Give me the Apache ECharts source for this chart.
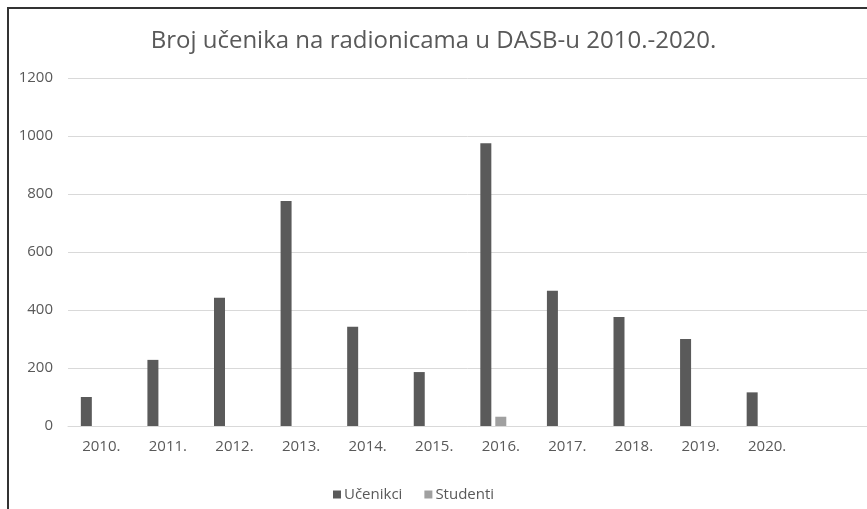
<!DOCTYPE html>
<html>
<head>
<meta charset="utf-8">
<title>Broj učenika</title>
<script src="https://cdn.jsdelivr.net/npm/echarts@6/dist/echarts.min.js"></script>
<style>
  html, body { margin: 0; padding: 0; background: #fff; }
  #chart { width: 867px; height: 509px; }
</style>
</head>
<body>
<div id="chart"></div>
<script>
// godine (zadnja kategorija prazna, kao u originalu)
const years = ['2010.', '2011.', '2012.', '2013.', '2014.', '2015.', '2016.', '2017.', '2018.', '2019.', '2020.', ''];
const ucenici = [100, 228, 442, 776, 342, 186, 975, 466, 376, 300, 116, null];
const studenti = [null, null, null, null, null, null, 32, null, null, null, null, null];
const yTicks = [0, 200, 400, 600, 800, 1000, 1200];

const font = '"Open Sans", "Noto Sans", sans-serif';
const textGray = '#595959';

const chart = echarts.init(document.getElementById('chart'));

chart.setOption({
    backgroundColor: '#fff',
    animation: false,
    title: {
        text: 'Broj učenika na radionicama u DASB-u 2010.-2020.',
        left: 'center',
        top: 24,
        textStyle: { fontFamily: font, fontSize: 24, fontWeight: 'normal', color: textGray }
    },
    graphic: [{
        type: 'polyline',
        shape: { points: [[8, 509], [8, 8], [867, 8]] },
        style: { stroke: '#333', lineWidth: 2, fill: null }
    }],
    legend: {
        data: ['Učenikci', 'Studenti'],
        left: 328,
        top: 482,
        icon: 'rect',
        itemWidth: 8,
        itemHeight: 8,
        itemGap: 22,
        itemStyle: { borderWidth: 0 },
        textStyle: { fontFamily: font, fontSize: 15, color: textGray, padding: [0, 0, 0, -2] }
    },
    grid: { left: 68, right: 0, top: 78, bottom: 83, containLabel: false },
    xAxis: {
        type: 'category',
        data: years,
        axisLine: { lineStyle: { color: '#d9d9d9' } },
        axisTick: { show: false },
        axisLabel: { fontFamily: font, fontSize: 15, color: textGray, margin: 13 }
    },
    yAxis: {
        type: 'value',
        min: yTicks[0],
        max: yTicks[yTicks.length - 1],
        interval: 200,
        axisLine: { show: false },
        axisTick: { show: false },
        splitLine: { lineStyle: { color: '#d9d9d9' } },
        axisLabel: {
            fontFamily: font, fontSize: 15, color: textGray, margin: 15,
            formatter: v => String(v)
        }
    },
    series: [
        { name: 'Učenikci', type: 'bar', data: ucenici, barWidth: 11, barGap: '36%', itemStyle: { color: '#5a5a5a' } },
        { name: 'Studenti', type: 'bar', data: studenti, barWidth: 11, barGap: '36%', itemStyle: { color: '#a0a0a0' } },
        { name: '', type: 'bar', data: [], barWidth: 11, barGap: '36%' }
    ]
});
</script>
</body>
</html>
